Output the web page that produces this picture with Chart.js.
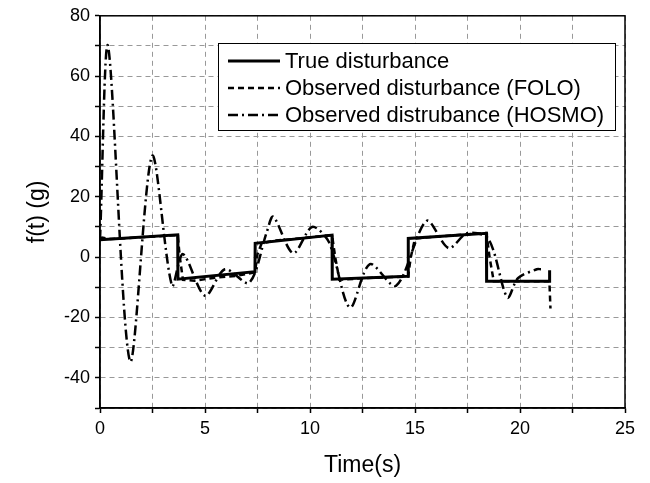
<!DOCTYPE html>
<html>
<head>
<meta charset="utf-8">
<script src="https://cdn.jsdelivr.net/npm/chart.js@4/dist/chart.umd.min.js"></script>
<style>
  html, body { margin: 0; padding: 0; background: #fff; }
  #wrap { width: 650px; height: 483px; }
</style>
</head>
<body>
<div id="wrap"><canvas id="grafico" width="650" height="483"></canvas></div>
<script>
// dados
const rotulos = ['True disturbance', 'Observed disturbance (FOLO)', 'Observed distrubance (HOSMO)'];

const tReal = [0, 3.7, 3.71, 7.38, 7.39, 11.05, 11.06, 14.67, 14.68, 18.4, 18.41, 21.4, 21.41];
const fReal = [5.8, 7.4, -7.3, -4.8, 4.6, 7.3, -7.3, -6.3, 6.2, 7.9, -8.0, -8.0, -4.3];

const tFolo = [0, 0.1, 0.5, 3.7, 3.8, 3.95, 4.5, 5.5, 6.5, 7.38, 7.5, 7.7, 8.3, 9.5, 11.05, 11.2, 11.4, 12.5, 14.67, 14.8, 15.0, 16.0, 18.4, 18.55, 18.75, 21.4, 21.45];
const fFolo = [6.0, 6.5, 6.0, 7.3, 0, -7.5, -7.8, -6.8, -6.2, -5.0, 1, 4.6, 5.5, 6.2, 7.3, 0, -7.5, -7.0, -6.4, 0, 6.2, 6.8, 8.0, 0, -8.0, -8.0, -17];

const tHosmo = [0, 0.38, 1.43, 2.48, 3.43, 3.95, 5.0, 5.95, 7.1, 7.95, 8.25, 9.2, 10.1, 10.9, 11.9, 12.85, 14.1, 15.55, 16.6, 17.5, 18.5, 19.4, 19.9, 20.8, 21.0];
const fHosmo = [5.8, 70, -34.5, 33.5, -9.5, 1, -12.8, -4, -8.5, 8.5, 13.4, 1.3, 10, 5, -16.7, -2.3, -9.5, 12, 3, 8, 6, -13.4, -7, -4, -4];

const pontos = (ts, vs) => ts.map((t, i) => ({ x: t, y: vs[i] }));

const fonteNum = "'Liberation Sans Narrow', 'Liberation Sans', Arial, sans-serif";
const fonteTxt = "'Liberation Sans', Arial, sans-serif";

// moldura em volta da area do grafico
const moldura = {
  id: 'moldura',
  afterDatasetsDraw(chart) {
    const a = chart.chartArea, ctx = chart.ctx;
    ctx.save();
    ctx.strokeStyle = '#000';
    ctx.lineWidth = 1.5;
    ctx.strokeRect(a.left, a.top, a.right - a.left, a.bottom - a.top);
    ctx.restore();
  }
};

// legenda desenhada dentro do grafico
const legenda = {
  id: 'legenda',
  afterDraw(chart) {
    const ctx = chart.ctx;
    ctx.save();
    ctx.fillStyle = '#fff';
    ctx.fillRect(218, 43, 397, 87);
    ctx.strokeStyle = '#000';
    ctx.lineWidth = 1;
    ctx.strokeRect(218.5, 43.5, 397, 87);
    const ys = [61, 88, 115];
    chart.data.datasets.forEach((ds, i) => {
      ctx.beginPath();
      ctx.setLineDash(ds.borderDash || []);
      ctx.lineWidth = ds.borderWidth;
      ctx.strokeStyle = '#000';
      ctx.moveTo(228, ys[i]);
      ctx.lineTo(280, ys[i]);
      ctx.stroke();
      ctx.setLineDash([]);
      ctx.fillStyle = '#000';
      ctx.font = '22px ' + fonteTxt;
      ctx.textBaseline = 'middle';
      ctx.fillText(ds.label, 285, ys[i] + 1);
    });
    ctx.restore();
  }
};

new Chart(document.getElementById('grafico'), {
  type: 'line',
  data: {
    datasets: [
      { label: rotulos[0], data: pontos(tReal, fReal), borderColor: '#000', borderWidth: 3, pointRadius: 0, tension: 0 },
      { label: rotulos[1], data: pontos(tFolo, fFolo), borderColor: '#000', borderWidth: 2.5, borderDash: [6, 4], pointRadius: 0, tension: 0 },
      { label: rotulos[2], data: pontos(tHosmo, fHosmo), borderColor: '#000', borderWidth: 2.5, borderDash: [10, 4, 2, 4], pointRadius: 0, tension: 0.3 }
    ]
  },
  options: {
    responsive: false,
    animation: false,
    layout: { padding: { top: 13, right: 25, left: 0, bottom: 0 } },
    plugins: { legend: { display: false }, tooltip: { enabled: false } },
    scales: {
      x: {
        type: 'linear', min: 0, max: 25,
        afterFit(s) { s.height = 75; },
        ticks: {
          stepSize: 2.5, autoSkip: false, maxRotation: 0, padding: 5,
          color: '#000', font: { size: 18, family: fonteNum },
          callback: v => (v % 5 === 0 ? v : '')
        },
        grid: { color: '#999', lineWidth: 1, tickColor: '#000', tickLength: 5, tickWidth: 1.5 },
        border: { color: '#000', width: 1.5, dash: [5, 4] },
        title: { display: true, text: 'Time(s)', color: '#000', font: { size: 23, family: fonteTxt }, padding: { top: 0, bottom: 4 } }
      },
      y: {
        min: -50, max: 80,
        afterFit(s) { s.width = 100; },
        ticks: {
          stepSize: 10, autoSkip: false, padding: 5,
          color: '#000', font: { size: 18, family: fonteNum },
          callback: v => (v % 20 === 0 ? v : '')
        },
        grid: { color: '#999', lineWidth: 1, tickColor: '#000', tickLength: 5, tickWidth: 1.5 },
        border: { color: '#000', width: 1.5, dash: [5, 4] },
        title: { display: true, text: 'f(t) (g)', color: '#000', font: { size: 23, family: fonteTxt }, padding: { top: 24, bottom: 0 } }
      }
    }
  },
  plugins: [moldura, legenda]
});
</script>
</body>
</html>
